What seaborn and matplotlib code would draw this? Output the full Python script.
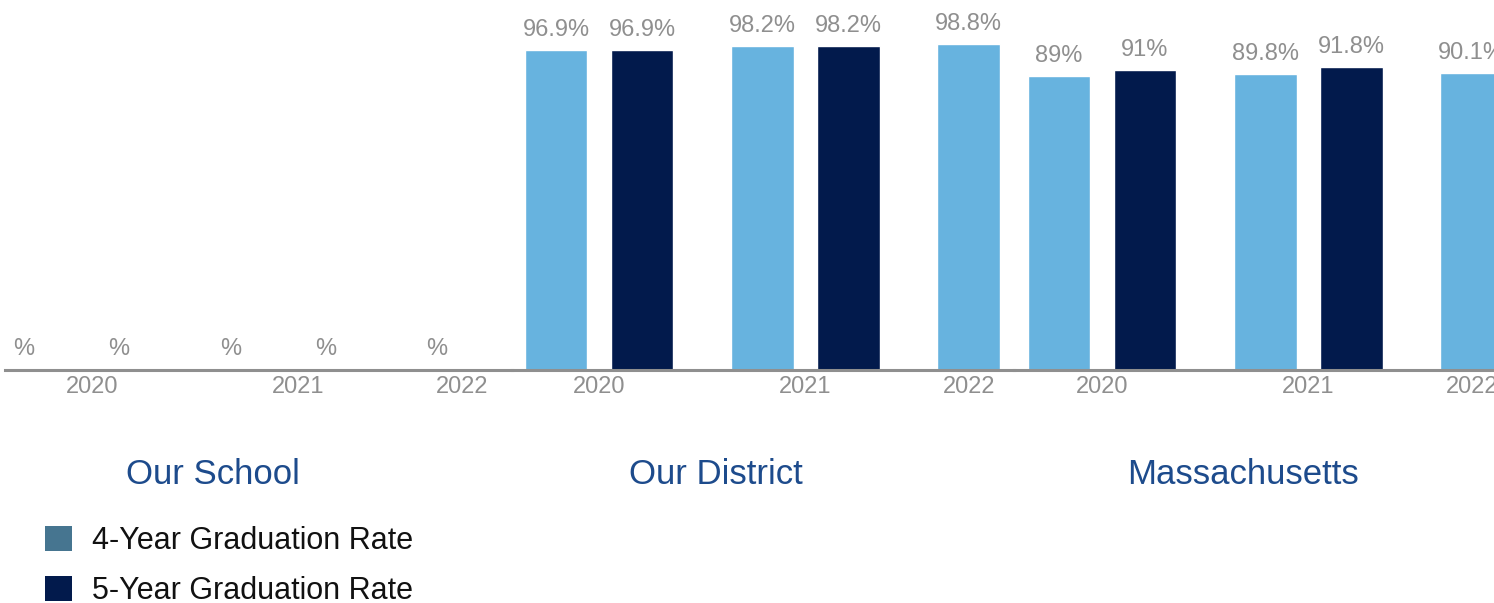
import numpy as np
import pandas as pd
import matplotlib
matplotlib.use("Agg")
import matplotlib.pyplot as plt
from matplotlib.patches import Patch
import seaborn as sns

# Data (None = not reported)
panels = ["Our School", "Our District", "Massachusetts"]
years = ["2020", "2021", "2022"]
series = ["4-Year Graduation Rate", "5-Year Graduation Rate"]
# 5-year rate is not out yet for 2022, so that list is one shorter
school_4yr = [None, None, None]
school_5yr = [None, None]
district_4yr = [96.9, 98.2, 98.8]
district_5yr = [96.9, 98.2]
state_4yr = [89, 89.8, 90.1]
state_5yr = [91, 91.8]

rates = {
    "Our School": (school_4yr, school_5yr),
    "Our District": (district_4yr, district_5yr),
    "Massachusetts": (state_4yr, state_5yr),
}

bar_colors = {series[0]: "#67b3df", series[1]: "#021a4c"}
legend_colors = {series[0]: "#467590", series[1]: "#021a4c"}
grey = "#8f8f8f"
title_blue = "#1d4b8c"

sns.set_style("white")
plt.rcParams["font.family"] = ["Liberation Sans", "DejaVu Sans"]

W, H = 1494, 603
fig = plt.figure(figsize=(W / 100, H / 100), dpi=100)

# panel placement in pixels (third panel runs past the right edge, like the source)
panel_left = [5, 512, 1014]
panel_right = [512, 1014, 1514]
first_bar = [49, 556, 1059]  # pixel centre of each panel's first bar slot
slot_px = 86
base_y, top_y = 370, 40
title_x = [213, 716, 1243]
group_gap = 1.4  # bar slot step between year groups (in-group step is 1)
pct_shift = {series[0]: -18, series[1]: -11.5}  # empty "%" labels sit left of the slot


def build_frame(four, five):
    rows = []
    pos = 0.0
    for i, yr in enumerate(years):
        vals = [(series[0], four[i])]
        if i < len(five):
            vals.append((series[1], five[i]))
        for j, (s, v) in enumerate(vals):
            rows.append({"year": yr, "series": s, "rate": v, "pos": pos})
            pos += 1 if j < len(vals) - 1 else group_gap
    df = pd.DataFrame(rows)
    df["rate"] = pd.to_numeric(df["rate"])
    return df


for k, name in enumerate(panels):
    wpx = panel_right[k] - panel_left[k]
    ax = fig.add_axes([panel_left[k] / W, 1 - base_y / H,
                       wpx / W, (base_y - top_y) / H])
    df = build_frame(*rates[name])
    have = df.dropna(subset=["rate"])
    if len(have):
        sns.barplot(data=have, x="pos", y="rate", hue="series", palette=bar_colors,
                    native_scale=True, dodge=False, width=0.73, errorbar=None,
                    legend=False, ax=ax, saturation=1)

    for _, r in df.iterrows():
        if np.isnan(r["rate"]):
            ax.annotate("%", (r["pos"], 0), xytext=(pct_shift[r["series"]], 11),
                        textcoords="offset points", ha="center", va="baseline",
                        fontsize=17, color=grey)
        else:
            ax.annotate(f"{r['rate']:g}%", (r["pos"], r["rate"]), xytext=(0, 10),
                        textcoords="offset points", ha="center", va="baseline",
                        fontsize=17, color=grey)

    centers = df.groupby("year")["pos"].mean()
    ax.set_xticks(centers.values)
    ax.set_xticklabels(centers.index, fontsize=17, color=grey)
    ax.tick_params(axis="x", length=0, pad=4)
    ax.set_yticks([])
    x0 = -(first_bar[k] - panel_left[k]) / slot_px
    ax.set_xlim(x0, x0 + wpx / slot_px)
    ax.set_ylim(0, 100)
    ax.set_xlabel("")
    ax.set_ylabel("")
    for side in ["top", "left", "right"]:
        ax.spines[side].set_visible(False)
    ax.spines["bottom"].set_color(grey)
    ax.spines["bottom"].set_linewidth(2.2)
    ax.patch.set_alpha(0)

    fig.text(title_x[k] / W, 1 - 475 / H, name,
             ha="center", va="center", fontsize=25, color=title_blue)

handles = [Patch(facecolor=legend_colors[s], edgecolor="none") for s in series]
fig.legend(handles, series, loc="upper left", bbox_to_anchor=(45 / W, 1 - 526 / H),
           frameon=False, fontsize=22, labelcolor="#111111", handlelength=0.88,
           handleheight=0.88, handletextpad=0.65, labelspacing=0.64, borderpad=0,
           borderaxespad=0)

fig.savefig("out.png", dpi=100)
